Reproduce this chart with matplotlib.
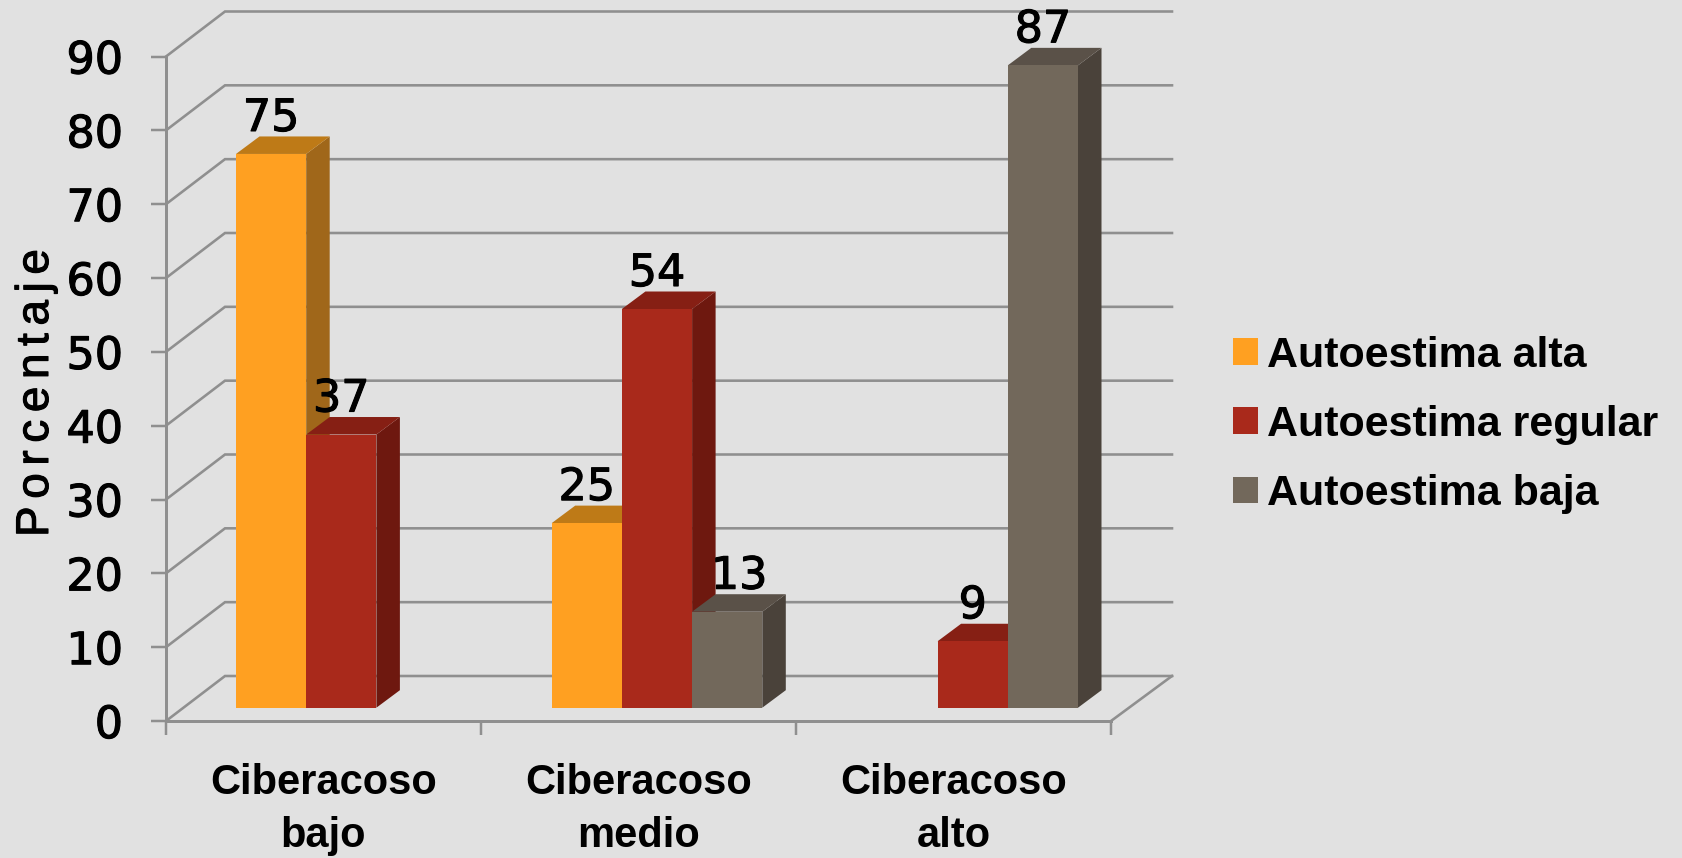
import matplotlib
matplotlib.use("Agg")
import matplotlib.pyplot as plt
import matplotlib.patheffects as pe
from matplotlib.patches import Polygon, Patch
import numpy as np

# data
categories = ["Ciberacoso\nbajo", "Ciberacoso\nmedio", "Ciberacoso\nalto"]
series_names = ["Autoestima alta", "Autoestima regular", "Autoestima baja"]
alta = [75, 25, None]
regular = [37, 54, 9]
baja = [None, 13, 87]
y_ticks = list(range(0, 100, 10))

# front, top, side shades per series
front_colors = ["#FFA021", "#A9291B", "#72685B"]
top_colors = ["#BE7A17", "#861F14", "#5A5148"]
side_colors = ["#A0671A", "#6E180F", "#4A423A"]
BG = "#E1E1E1"
GRID = "#8F8F8F"

W, H = 1682, 858
PT = 0.72  # one pixel in points at dpi 100

fig = plt.figure(figsize=(W / 100, H / 100), dpi=100, facecolor=BG)
ax = fig.add_axes([166 / W, (H - 721) / H, 945 / W, 664.5 / H], facecolor="none")
ax.set_xlim(0, 3)
ax.set_ylim(0, 90)

xu = 315.0    # px per category
yu = 7.3833   # px per percent

# fake 3d sizes
wall_dx, wall_dy = 59 / xu, 45 / yu
wall_w = 947 / xu
shift_x, shift_y = 18.25 / xu, 13.3 / yu
depth_x, depth_y = 23.5 / xu, 17.5 / yu
bar_w = 70.2 / xu
group_off = (70 - 18.25) / xu
group_step = 315.7 / xu

thick = [pe.withStroke(linewidth=0.8, foreground="black")]

# walls
for v in y_ticks:
    ax.plot([0, wall_dx, wall_w + wall_dx], [v, v + wall_dy, v + wall_dy],
            color=GRID, lw=2.6 * PT, clip_on=False, zorder=1, solid_joinstyle="miter")
ax.plot([3, wall_w + wall_dx], [0, wall_dy], color=GRID, lw=2.6 * PT, clip_on=False, zorder=1)

# bars
for j, vals in enumerate([alta, regular, baja]):
    for i, v in enumerate(vals):
        if v is None:
            continue
        x0 = i * group_step + group_off + shift_x + j * bar_w
        x1 = x0 + bar_w
        y0 = shift_y
        y1 = shift_y + v
        z = 3 + j
        ax.add_patch(Polygon([(x1, y0), (x1 + depth_x, y0 + depth_y), (x1 + depth_x, y1 + depth_y), (x1, y1)],
                             fc=side_colors[j], ec="none", clip_on=False, zorder=z))
        ax.add_patch(Polygon([(x0, y1), (x1, y1), (x1 + depth_x, y1 + depth_y), (x0 + depth_x, y1 + depth_y)],
                             fc=top_colors[j], ec="none", clip_on=False, zorder=z))
        ax.add_patch(Polygon([(x0, y0), (x1, y0), (x1, y1), (x0, y1)],
                             fc=front_colors[j], ec="none", clip_on=False, zorder=z))
        # the 13 sits a bit to the right in the original
        nudge = 12 * PT if (j == 2 and i == 1) else 0
        ax.annotate(str(v), xy=((x0 + x1) / 2, y1), xytext=(nudge, 23 * PT), textcoords="offset points",
                    ha="center", va="baseline", fontsize=32, family="DejaVu Sans", color="black",
                    zorder=10, annotation_clip=False, path_effects=thick)

# axes
for s in ["top", "right"]:
    ax.spines[s].set_visible(False)
for s in ["left", "bottom"]:
    ax.spines[s].set_color(GRID)
    ax.spines[s].set_linewidth(3 * PT)
    ax.spines[s].set_zorder(2)

ax.set_yticks(y_ticks)
ax.tick_params(axis="y", length=15 * PT, width=2.5 * PT, color=GRID, pad=28 * PT, labelsize=32)
for t in ax.get_yticklabels():
    t.set_path_effects(thick)
ax.set_xticks(range(4))
ax.set_xticklabels([])
ax.tick_params(axis="x", which="major", length=14 * PT, width=2.5 * PT, color=GRID)
ax.set_xticks(np.arange(3) + 0.5, minor=True)
ax.set_xticklabels(categories, minor=True, fontsize=30, family="Liberation Sans", fontweight="bold",
                   linespacing=1.43)
ax.tick_params(axis="x", which="minor", length=0, pad=42 * PT)

ax.set_ylabel("P\u2006o\u2006r\u2006c\u2006e\u2006n\u2006t\u2006a\u2006j\u2006e", fontsize=33,
              family="Liberation Sans", path_effects=thick)
ax.yaxis.set_label_coords((58 - 166) / 945, (721 - 393) / 664.5)

handles = [Patch(fc=c, ec="none") for c in front_colors]
fig.legend(handles, series_names, loc="center left", bbox_to_anchor=(1233 / W, (H - 425) / H),
           frameon=False, prop={"family": "Liberation Sans", "weight": "bold", "size": 31},
           handlelength=0.58, handleheight=0.58, handletextpad=0.2, labelspacing=0.68, borderpad=0, borderaxespad=0)

fig.savefig("out.png", dpi=100, facecolor=BG)
